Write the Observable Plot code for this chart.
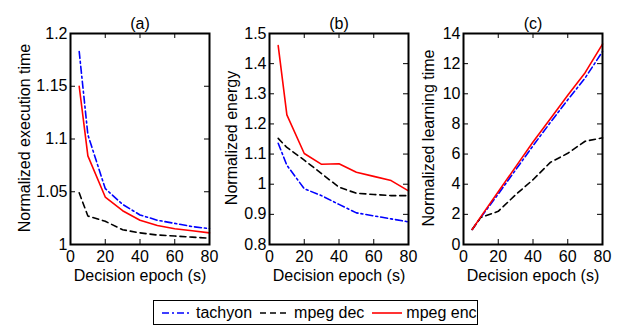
<!DOCTYPE html>
<html><head><meta charset="utf-8">
<script src="https://cdn.jsdelivr.net/npm/d3@7"></script>
<script src="https://cdn.jsdelivr.net/npm/@observablehq/plot@0.6"></script>
<style>
body{margin:0;background:#fff;font-family:"Liberation Sans",Arial,sans-serif;}
#wrap{position:relative;width:628px;height:327px;overflow:hidden;}
.panel{position:absolute;top:0;}
.ylab{position:absolute;top:138px;font-size:16px;white-space:nowrap;transform:translate(-50%,-50%) rotate(-90deg);}
#legend{position:absolute;left:153px;top:300px;width:325px;height:25px;border:1.5px solid #000;box-sizing:border-box;font-size:16px;display:flex;align-items:center;white-space:nowrap;}
#legend .item{display:flex;align-items:center;white-space:nowrap;}
#legend svg{margin-right:4px;}
</style>
</head><body>
<div id="wrap">
<div class="panel" id="pa" style="left:0px"></div>
<div class="panel" id="pb" style="left:205px"></div>
<div class="panel" id="pc" style="left:410px"></div>
<div id="legend"></div>
</div>
<script>
// ---- data ----
const epochs = [5, 10, 20, 30, 40, 50, 60, 70, 80];
const seriesNames = ["tachyon", "mpeg dec", "mpeg enc"];
const xTicks = [0, 20, 40, 60, 80];

const titles = ["(a)", "(b)", "(c)"];
const yLabels = ["Normalized execution time", "Normalized energy", "Normalized learning time"];
const xLabel = "Decision epoch (s)";

const tachyonA = [1.183, 1.104, 1.053, 1.038, 1.028, 1.023, 1.020, 1.017, 1.015];
const mpegDecA = [1.049, 1.027, 1.022, 1.014, 1.011, 1.009, 1.008, 1.007, 1.006];
const mpegEncA = [1.150, 1.084, 1.045, 1.032, 1.023, 1.018, 1.015, 1.013, 1.011];
const yTicksA = [1, 1.05, 1.1, 1.15, 1.2];

const tachyonB = [1.136, 1.063, 0.985, 0.962, 0.933, 0.905, 0.895, 0.885, 0.875];
const mpegDecB = [1.152, 1.122, 1.080, 1.035, 0.990, 0.970, 0.966, 0.962, 0.962];
const mpegEncB = [1.460, 1.230, 1.102, 1.066, 1.068, 1.040, 1.026, 1.012, 0.978];
const yTicksB = [0.8, 0.9, 1, 1.1, 1.2, 1.3, 1.4, 1.5];

const tachyonC = [1.0, 1.8, 3.35, 4.95, 6.55, 8.1, 9.6, 11.05, 12.8];
const mpegDecC = [1.0, 1.8, 2.2, 3.3, 4.3, 5.45, 6.05, 6.85, 7.08];
const mpegEncC = [1.0, 1.85, 3.5, 5.15, 6.8, 8.35, 9.9, 11.4, 13.3];
const yTicksC = [0, 2, 4, 6, 8, 10, 12, 14];

// ---- styles ----
const styles = {
  "tachyon": {stroke: "#0000ff", dash: "7,3,2,3"},
  "mpeg dec": {stroke: "#000000", dash: "6,4"},
  "mpeg enc": {stroke: "#ff0000", dash: null}
};
const fmt = d => String(+d.toFixed(2));
const rows = arr => epochs.map((e, i) => ({epoch: e, value: arr[i]}));

function panel(el, cfg) {
  const H = 290, mt = 33, mb = 46;
  const fh = H - mt - mb;
  const fw = cfg.width - cfg.ml - cfg.mr;
  const lines = cfg.series.map((arr, i) => {
    const s = styles[seriesNames[i]];
    return Plot.line(rows(arr), {x: "epoch", y: "value", stroke: s.stroke, strokeWidth: 1.6,
      strokeDasharray: s.dash || undefined});
  });
  const p = Plot.plot({
    width: cfg.width, height: H,
    marginLeft: cfg.ml, marginRight: cfg.mr, marginTop: mt, marginBottom: mb,
    style: {fontFamily: "'Liberation Sans', Arial, sans-serif", fontSize: "16px", color: "#000", background: "transparent", overflow: "visible"},
    x: {domain: [0, 80], ticks: xTicks, tickSize: 0, tickPadding: 6, tickFormat: fmt, label: null},
    y: {domain: cfg.domain, ticks: cfg.yTicks, tickSize: 0, tickPadding: 3, tickFormat: fmt, label: null},
    marks: [
      Plot.tickX(xTicks.slice(1, -1), {x: d => d, insetTop: fh - 5, stroke: "#000"}),
      Plot.tickX(xTicks.slice(1, -1), {x: d => d, insetBottom: fh - 5, stroke: "#000"}),
      Plot.tickY(cfg.yTicks.slice(1, -1), {y: d => d, insetRight: fw - 5, stroke: "#000"}),
      Plot.tickY(cfg.yTicks.slice(1, -1), {y: d => d, insetLeft: fw - 5, stroke: "#000"}),
      ...lines,
      Plot.frame({stroke: "#000", strokeWidth: 2}),
      Plot.text([cfg.title], {text: d => d, frameAnchor: "top", dy: -16, fontSize: 16}),
      Plot.text([xLabel], {text: d => d, frameAnchor: "bottom", dy: 36, fontSize: 16})
    ]
  });
  document.getElementById(el).appendChild(p);
}

panel("pa", {width: 215, ml: 70, mr: 6, domain: [1, 1.2], yTicks: yTicksA, series: [tachyonA, mpegDecA, mpegEncA], title: titles[0]});
panel("pb", {width: 210, ml: 64, mr: 7, domain: [0.8, 1.5], yTicks: yTicksB, series: [tachyonB, mpegDecB, mpegEncB], title: titles[1]});
panel("pc", {width: 198, ml: 53, mr: 6, domain: [0, 14], yTicks: yTicksC, series: [tachyonC, mpegDecC, mpegEncC], title: titles[2]});

// rotated y-axis titles
const ylabX = [25, 232, 429];
yLabels.forEach((t, i) => {
  d3.select("#wrap").append("div").attr("class", "ylab").style("left", ylabX[i] + "px").text(t);
});

// ---- legend ----
const leg = d3.select("#legend");
seriesNames.forEach((name, i) => {
  const s = styles[name];
  const it = leg.append("div").attr("class", "item").style("margin-left", i === 0 ? "8px" : "8px");
  const svg = it.append("svg").attr("width", 30).attr("height", 10);
  svg.append("line").attr("x1", 0).attr("x2", 30).attr("y1", 5).attr("y2", 5)
    .attr("stroke", s.stroke).attr("stroke-width", 1.6).attr("stroke-dasharray", s.dash);
  it.append("span").text(name);
});
</script>
</body></html>
